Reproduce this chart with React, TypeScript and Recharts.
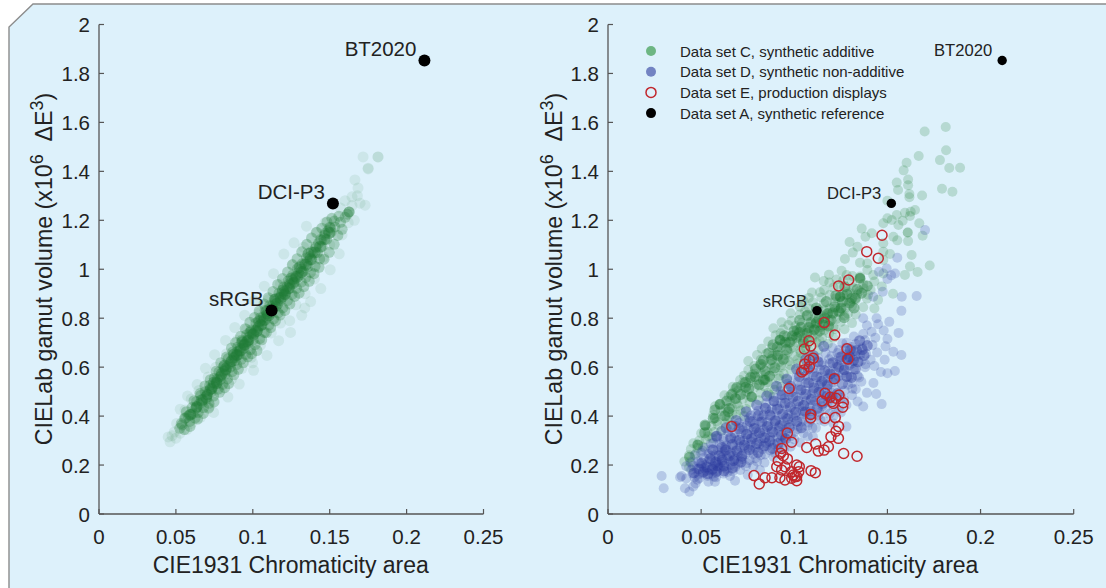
import React from 'react';
import { ScatterChart, Scatter, XAxis, YAxis, Legend } from 'recharts';

type Pt = [number, number];

const xTicks = [0, 0.05, 0.1, 0.15, 0.2, 0.25];
const yTicks = [0, 0.2, 0.4, 0.6, 0.8, 1, 1.2, 1.4, 1.6, 1.8, 2];

const referencePoints: { x: number; y: number; label: string }[] = [
  { x: 0.2116, y: 1.853, label: 'BT2020' },
  { x: 0.1521, y: 1.269, label: 'DCI-P3' },
  { x: 0.1122, y: 0.831, label: 'sRGB' },
];

// left panel: the pale outskirts of the band
const leftHalo: Pt[] = [
  [0.045, 0.315], [0.0462, 0.295], [0.0475, 0.32], [0.049, 0.335], [0.05, 0.31], [0.0528, 0.33], [0.057, 0.345],
  [0.06, 0.37], [0.0505, 0.37], [0.066, 0.395], [0.056, 0.425], [0.06, 0.47], [0.072, 0.44], [0.065, 0.505],
  [0.08, 0.51], [0.071, 0.56], [0.086, 0.55], [0.076, 0.6], [0.093, 0.595], [0.083, 0.655], [0.099, 0.64],
  [0.09, 0.71], [0.105, 0.69], [0.096, 0.755], [0.112, 0.74], [0.118, 0.78], [0.124, 0.79], [0.104, 0.82],
  [0.128, 0.855], [0.11, 0.875], [0.134, 0.9], [0.118, 0.94], [0.14, 0.96], [0.126, 1.02], [0.146, 1.05],
  [0.133, 1.09], [0.15, 1.1], [0.141, 1.15], [0.158, 1.14], [0.147, 1.19], [0.162, 1.19], [0.166, 1.2],
  [0.157, 1.25], [0.1645, 1.296], [0.1697, 1.27], [0.173, 1.262], [0.1684, 1.332], [0.1664, 1.365], [0.16, 1.28],
  [0.175, 1.413], [0.1717, 1.459], [0.1814, 1.459], [0.1814, 1.459], [0.168, 1.3], [0.1645, 1.26], [0.175, 1.41],
  [0.0745, 0.415], [0.0838, 0.478], [0.0912, 0.531], [0.1005, 0.587], [0.1092, 0.648], [0.1168, 0.708], [0.1245, 0.742],
  [0.1318, 0.812], [0.1376, 0.868], [0.1442, 0.921], [0.1503, 0.998], [0.1562, 1.063], [0.1338, 0.842], [0.0998, 0.618],
  [0.0528, 0.428], [0.0576, 0.482], [0.0638, 0.529], [0.0692, 0.595], [0.0752, 0.651], [0.0823, 0.709], [0.0883, 0.762],
  [0.0947, 0.812], [0.1008, 0.872], [0.1075, 0.931], [0.1135, 0.982], [0.1202, 1.062], [0.1268, 1.108], [0.1349, 1.176],
];

// left panel: the dense part of the band
const leftCore: Pt[] = [
  [0.0525, 0.35], [0.0535, 0.37], [0.054, 0.364], [0.0555, 0.345], [0.0555, 0.39], [0.058, 0.4], [0.059, 0.378],
  [0.061, 0.41], [0.0605, 0.435], [0.0625, 0.392], [0.0635, 0.437], [0.0645, 0.415], [0.0635, 0.46], [0.067, 0.455],
  [0.0662, 0.485], [0.068, 0.435], [0.07, 0.47], [0.069, 0.5], [0.0715, 0.452], [0.0705, 0.487], [0.073, 0.5],
  [0.072, 0.525], [0.0745, 0.482], [0.0735, 0.512], [0.0766, 0.535], [0.075, 0.555], [0.0775, 0.51], [0.0762, 0.54],
  [0.079, 0.55], [0.078, 0.58], [0.0805, 0.53], [0.0795, 0.565], [0.082, 0.572], [0.081, 0.602], [0.0835, 0.552],
  [0.0825, 0.587], [0.085, 0.612], [0.084, 0.635], [0.0865, 0.582], [0.0855, 0.6], [0.088, 0.64], [0.087, 0.662],
  [0.0897, 0.65], [0.0895, 0.61], [0.0885, 0.627], [0.091, 0.652], [0.0902, 0.682], [0.0925, 0.632], [0.0915, 0.667],
  [0.094, 0.677], [0.093, 0.71], [0.0955, 0.652], [0.0945, 0.69], [0.097, 0.697], [0.096, 0.732], [0.0985, 0.672],
  [0.0975, 0.712], [0.1003, 0.711], [0.099, 0.752], [0.1015, 0.692], [0.1005, 0.737], [0.103, 0.747], [0.102, 0.78],
  [0.1045, 0.717], [0.1035, 0.762], [0.106, 0.772], [0.105, 0.802], [0.1075, 0.742], [0.1065, 0.787], [0.109, 0.802],
  [0.108, 0.832], [0.1105, 0.772], [0.1095, 0.817], [0.112, 0.822], [0.111, 0.852], [0.1135, 0.797], [0.1125, 0.837],
  [0.115, 0.847], [0.114, 0.877], [0.1165, 0.822], [0.1155, 0.862], [0.118, 0.872], [0.117, 0.902], [0.1195, 0.842],
  [0.1196, 0.887], [0.121, 0.897], [0.12, 0.927], [0.1225, 0.872], [0.1215, 0.912], [0.124, 0.922], [0.123, 0.952],
  [0.1255, 0.897], [0.1245, 0.937], [0.127, 0.947], [0.126, 0.977], [0.1285, 0.922], [0.1275, 0.962], [0.1307, 0.977],
  [0.129, 1.002], [0.1315, 0.947], [0.133, 0.992], [0.132, 1.022], [0.1345, 0.967], [0.136, 1.012], [0.135, 1.047],
  [0.1375, 0.987], [0.1385, 1.038], [0.138, 1.072], [0.1405, 1.012], [0.142, 1.067], [0.141, 1.092], [0.1435, 1.042],
  [0.145, 1.092], [0.144, 1.122], [0.148, 1.122], [0.147, 1.147], [0.151, 1.152], [0.15, 1.172], [0.1534, 1.173],
  [0.153, 1.197], [0.157, 1.192], [0.156, 1.217], [0.16, 1.212], [0.1626, 1.234], [0.1626, 1.234], [0.1615, 1.225],
  [0.0568, 0.418], [0.0592, 0.358], [0.0618, 0.463], [0.0641, 0.388], [0.0657, 0.492], [0.0678, 0.411], [0.0689, 0.523],
  [0.0713, 0.433], [0.0724, 0.549], [0.0748, 0.458], [0.0761, 0.583], [0.0783, 0.497], [0.0792, 0.618], [0.0817, 0.516],
  [0.0829, 0.641], [0.0843, 0.533], [0.0861, 0.678], [0.0877, 0.569], [0.0889, 0.701], [0.0906, 0.591], [0.0921, 0.726],
  [0.0938, 0.618], [0.0951, 0.757], [0.0968, 0.642], [0.0981, 0.783], [0.0993, 0.655], [0.1012, 0.803], [0.1027, 0.668],
  [0.1041, 0.829], [0.1058, 0.712], [0.1073, 0.858], [0.1088, 0.741], [0.1101, 0.884], [0.1116, 0.762], [0.1131, 0.909],
  [0.1147, 0.789], [0.1162, 0.938], [0.1178, 0.813], [0.1193, 0.962], [0.1208, 0.831], [0.1226, 0.989], [0.1241, 0.858],
  [0.1257, 1.018], [0.1272, 0.889], [0.1288, 1.043], [0.1301, 0.902], [0.1318, 1.071], [0.1332, 0.929], [0.1351, 1.102],
  [0.1367, 0.951], [0.1382, 1.128], [0.1398, 0.982], [0.1415, 1.151], [0.1431, 1.008], [0.1449, 1.168], [0.1463, 1.041],
  [0.1482, 1.193], [0.1497, 1.069], [0.1514, 1.208], [0.1529, 1.102], [0.1553, 1.138], [0.1581, 1.163],
  [0.0562, 0.392], [0.0597, 0.407], [0.0628, 0.431], [0.0652, 0.449], [0.0677, 0.468], [0.0703, 0.489], [0.0718, 0.505],
  [0.0741, 0.522], [0.0769, 0.551], [0.0788, 0.561], [0.0812, 0.584], [0.0833, 0.602], [0.0858, 0.621], [0.0873, 0.637],
  [0.0897, 0.662], [0.0917, 0.677], [0.0939, 0.694], [0.0958, 0.703], [0.0973, 0.722], [0.0994, 0.737], [0.1019, 0.752],
  [0.1038, 0.768], [0.1052, 0.79], [0.1069, 0.805], [0.1092, 0.818], [0.1112, 0.84], [0.1128, 0.851], [0.1146, 0.869],
  [0.1169, 0.884], [0.1187, 0.899], [0.1201, 0.908], [0.1223, 0.928], [0.1238, 0.941], [0.1259, 0.957], [0.1278, 0.971],
  [0.1296, 0.985], [0.1312, 1.001], [0.1335, 1.021], [0.1354, 1.033], [0.1372, 1.052], [0.1391, 1.069], [0.1412, 1.088],
  [0.1428, 1.107], [0.1447, 1.118], [0.1468, 1.139], [0.1489, 1.157], [0.1505, 1.169],
];

// left panel: the darkest ridge along the middle of the band
const leftDense: Pt[] = [
  [0.0592, 0.405], [0.0635, 0.437], [0.0668, 0.465], [0.0697, 0.478], [0.0728, 0.512], [0.0766, 0.535], [0.0748, 0.537],
  [0.0798, 0.573], [0.0824, 0.592], [0.0817, 0.607], [0.0862, 0.625], [0.0897, 0.65], [0.0878, 0.652], [0.0921, 0.668],
  [0.0948, 0.692], [0.0932, 0.702], [0.0967, 0.708], [0.1003, 0.733], [0.0985, 0.742], [0.1024, 0.748], [0.1052, 0.772],
  [0.1041, 0.788], [0.1078, 0.794], [0.1103, 0.812], [0.1091, 0.828], [0.1128, 0.838], [0.1158, 0.858], [0.1147, 0.876],
  [0.1182, 0.884], [0.1208, 0.899], [0.1196, 0.914], [0.1232, 0.922], [0.1263, 0.943], [0.1251, 0.962], [0.1287, 0.968],
  [0.1318, 0.989], [0.1306, 1.008], [0.1345, 1.018], [0.1376, 1.041], [0.1362, 1.062], [0.1402, 1.068], [0.1438, 1.092],
  [0.1466, 1.124], [0.1497, 1.148],
];

// right panel, data set C
const dataC: Pt[] = [
  [0.1813, 1.581], [0.17, 1.563], [0.1668, 1.463], [0.1815, 1.486], [0.1782, 1.446], [0.1603, 1.435], [0.1587, 1.404],
  [0.1832, 1.414], [0.189, 1.415], [0.155, 1.354], [0.1611, 1.367], [0.1611, 1.343], [0.1557, 1.324], [0.1793, 1.329],
  [0.1849, 1.317], [0.1618, 1.307], [0.1618, 1.294], [0.1686, 1.301], [0.15, 1.28], [0.1648, 1.242], [0.1625, 1.235],
  [0.1594, 1.231], [0.155, 1.222], [0.15, 1.208], [0.1523, 1.201], [0.1478, 1.188], [0.1559, 1.181], [0.1582, 1.198],
  [0.1621, 1.218], [0.1671, 1.188], [0.1609, 1.15], [0.1609, 1.15], [0.1689, 1.137], [0.1362, 1.166], [0.1416, 1.147],
  [0.1382, 1.133], [0.1532, 1.133], [0.1553, 1.118], [0.1611, 1.115], [0.1297, 1.111], [0.1478, 1.106], [0.1339, 1.092],
  [0.1314, 1.068], [0.1478, 1.072], [0.1272, 1.042], [0.1514, 1.062], [0.163, 1.058], [0.1353, 1.027], [0.1392, 1.024],
  [0.1478, 1.038], [0.1727, 1.015], [0.1621, 1.011], [0.1662, 0.989], [0.1594, 0.977], [0.1186, 0.978], [0.1111, 0.966],
  [0.1254, 0.994], [0.1392, 0.997], [0.1353, 0.97], [0.1424, 0.976], [0.1478, 0.983], [0.1281, 0.976], [0.1263, 0.955],
  [0.1246, 0.93], [0.131, 0.945], [0.137, 0.94], [0.1353, 0.963], [0.1353, 0.963], [0.143, 0.95], [0.121, 0.925],
  [0.116, 0.915], [0.1095, 0.905], [0.1145, 0.885], [0.119, 0.895], [0.1246, 0.888], [0.1246, 0.888], [0.13, 0.905],
  [0.135, 0.91], [0.141, 0.915], [0.147, 0.93], [0.153, 0.9], [0.105, 0.87], [0.11, 0.865], [0.116, 0.86],
  [0.122, 0.865], [0.128, 0.87], [0.133, 0.875], [0.139, 0.88], [0.145, 0.875], [0.103, 0.847], [0.108, 0.84],
  [0.113, 0.835], [0.119, 0.84], [0.125, 0.84], [0.131, 0.85], [0.137, 0.845], [0.143, 0.84], [0.098, 0.82],
  [0.103, 0.815], [0.1065, 0.81], [0.111, 0.8], [0.116, 0.81], [0.121, 0.815], [0.127, 0.81], [0.133, 0.815],
  [0.0932, 0.783], [0.0985, 0.79], [0.104, 0.78], [0.109, 0.775], [0.114, 0.78], [0.119, 0.785], [0.125, 0.785],
  [0.131, 0.78], [0.0888, 0.759], [0.094, 0.755], [0.1013, 0.752], [0.1013, 0.752], [0.106, 0.75], [0.111, 0.755],
  [0.116, 0.75], [0.122, 0.755], [0.127, 0.755], [0.09, 0.73], [0.096, 0.725], [0.1, 0.73], [0.105, 0.72],
  [0.11, 0.73], [0.115, 0.72], [0.121, 0.72], [0.086, 0.705], [0.0923, 0.711], [0.0923, 0.711], [0.097, 0.7],
  [0.102, 0.7], [0.107, 0.695], [0.112, 0.7], [0.118, 0.695], [0.0825, 0.675], [0.088, 0.68], [0.093, 0.68],
  [0.098, 0.675], [0.103, 0.67], [0.108, 0.67], [0.113, 0.67], [0.08, 0.65], [0.085, 0.655], [0.09, 0.65],
  [0.095, 0.65], [0.1, 0.645], [0.105, 0.645], [0.11, 0.64], [0.0753, 0.625], [0.082, 0.63], [0.087, 0.625],
  [0.092, 0.62], [0.097, 0.625], [0.102, 0.615], [0.107, 0.61], [0.0753, 0.588], [0.0785, 0.605], [0.083, 0.6],
  [0.088, 0.595], [0.093, 0.6], [0.098, 0.59], [0.103, 0.585], [0.0709, 0.547], [0.073, 0.565], [0.0775, 0.57],
  [0.082, 0.575], [0.0843, 0.547], [0.0843, 0.547], [0.0843, 0.55], [0.087, 0.565], [0.092, 0.565], [0.096, 0.55],
  [0.067, 0.52], [0.0715, 0.525], [0.0755, 0.535], [0.08, 0.53], [0.084, 0.52], [0.089, 0.53], [0.093, 0.52],
  [0.0625, 0.485], [0.067, 0.495], [0.07, 0.505], [0.0745, 0.5], [0.0771, 0.479], [0.0771, 0.479], [0.082, 0.495],
  [0.086, 0.495], [0.0601, 0.448], [0.0601, 0.448], [0.0575, 0.44], [0.0655, 0.46], [0.069, 0.47], [0.0725, 0.47],
  [0.076, 0.455], [0.081, 0.465], [0.0605, 0.42], [0.063, 0.43], [0.0665, 0.435], [0.07, 0.44], [0.074, 0.43],
  [0.0574, 0.391], [0.0574, 0.391], [0.0565, 0.405], [0.061, 0.4], [0.065, 0.395], [0.069, 0.405], [0.073, 0.4],
  [0.0523, 0.361], [0.0523, 0.361], [0.0555, 0.36], [0.059, 0.365], [0.063, 0.37], [0.067, 0.365], [0.05, 0.33],
  [0.0535, 0.335], [0.057, 0.335], [0.061, 0.34], [0.0458, 0.289], [0.049, 0.3], [0.0525, 0.305], [0.056, 0.31],
  [0.0445, 0.265], [0.048, 0.27], [0.051, 0.275], [0.0435, 0.24], [0.047, 0.245], [0.041, 0.214], [0.044, 0.215],
  [0.0435, 0.19],
  [0.0648, 0.478], [0.0683, 0.512], [0.0727, 0.538], [0.0738, 0.487], [0.0763, 0.548], [0.0787, 0.517], [0.0809, 0.547],
  [0.0786, 0.573], [0.0818, 0.608], [0.0846, 0.571], [0.0857, 0.538], [0.0872, 0.612], [0.0891, 0.583], [0.0908, 0.638],
  [0.0883, 0.647], [0.0917, 0.553], [0.0943, 0.573], [0.0928, 0.607], [0.0951, 0.634], [0.0979, 0.608], [0.0967, 0.663],
  [0.0938, 0.697], [0.0912, 0.664], [0.0996, 0.682], [0.1018, 0.632], [0.1034, 0.658], [0.0989, 0.712], [0.1021, 0.727],
  [0.1047, 0.697], [0.1062, 0.678], [0.1073, 0.712], [0.1048, 0.742], [0.1082, 0.752], [0.1097, 0.717], [0.1124, 0.738],
  [0.1136, 0.708], [0.1113, 0.775], [0.1141, 0.762], [0.1168, 0.772], [0.1187, 0.738], [0.1209, 0.762], [0.1226, 0.797],
  [0.1152, 0.797], [0.1183, 0.822], [0.1218, 0.839], [0.1247, 0.824], [0.1275, 0.842], [0.1288, 0.818], [0.1306, 0.868],
  [0.1264, 0.895], [0.1223, 0.882], [0.1286, 0.909], [0.1318, 0.922], [0.1338, 0.897], [0.1372, 0.922], [0.1396, 0.896],
  [0.0868, 0.487], [0.0893, 0.508], [0.0667, 0.408], [0.0712, 0.423], [0.0692, 0.451], [0.0637, 0.388], [0.0583, 0.378],
  [0.0538, 0.318], [0.0482, 0.283], [0.0927, 0.738], [0.0968, 0.772], [0.1006, 0.768], [0.1058, 0.828], [0.1109, 0.821],
  [0.1163, 0.832], [0.1078, 0.883], [0.1138, 0.906], [0.1188, 0.946], [0.1158, 0.952], [0.1227, 0.958], [0.1312, 0.972],
];

// data set C, where the overlap goes nearly opaque
const denseC: Pt[] = [
  [0.0574, 0.425], [0.0601, 0.448], [0.0638, 0.462], [0.0664, 0.488], [0.0692, 0.517], [0.0712, 0.488], [0.0738, 0.538],
  [0.0756, 0.512], [0.0771, 0.479], [0.0789, 0.561], [0.0812, 0.528], [0.0834, 0.547], [0.0843, 0.585], [0.0821, 0.612],
  [0.0867, 0.563], [0.0878, 0.631], [0.0896, 0.598], [0.0923, 0.711], [0.0912, 0.648], [0.0908, 0.682], [0.0941, 0.632],
  [0.0959, 0.672], [0.0947, 0.728], [0.0976, 0.702], [0.0998, 0.748], [0.1013, 0.722], [0.1036, 0.763], [0.1049, 0.702],
  [0.1068, 0.738], [0.1089, 0.782], [0.1107, 0.752], [0.1132, 0.798], [0.1154, 0.772], [0.1178, 0.818], [0.1197, 0.792],
  [0.1217, 0.847], [0.1238, 0.828], [0.1258, 0.868], [0.1246, 0.888], [0.1283, 0.898], [0.1309, 0.882], [0.1338, 0.918],
  [0.1353, 0.963], [0.0521, 0.364], [0.0565, 0.391], [0.0627, 0.401], [0.0651, 0.431], [0.0438, 0.232], [0.0482, 0.282],
  [0.0519, 0.332], [0.0952, 0.702], [0.0989, 0.728], [0.1029, 0.742], [0.1078, 0.762], [0.1119, 0.782], [0.1163, 0.802],
  [0.1207, 0.822], [0.1252, 0.842], [0.1297, 0.862], [0.1328, 0.882], [0.1029, 0.792], [0.1071, 0.812], [0.1118, 0.842],
  [0.1172, 0.868], [0.1223, 0.892], [0.1271, 0.928], [0.1361, 0.902], [0.1392, 0.932], [0.1321, 0.842], [0.1268, 0.802],
  [0.1136, 0.748], [0.1184, 0.768], [0.0886, 0.692], [0.0863, 0.658], [0.0834, 0.628], [0.0792, 0.592], [0.0766, 0.558],
  [0.0738, 0.518], [0.0684, 0.472], [0.0646, 0.418],
];

// right panel, data set D
const dataD: Pt[] = [
  [0.0288, 0.155], [0.0299, 0.105], [0.0387, 0.15], [0.0437, 0.091], [0.0458, 0.112], [0.0413, 0.105], [0.0395, 0.155],
  [0.042, 0.145], [0.0455, 0.165], [0.049, 0.146], [0.0539, 0.132], [0.0574, 0.132], [0.0682, 0.136], [0.048, 0.14],
  [0.0465, 0.15], [0.047, 0.125], [0.051, 0.165], [0.0475, 0.185], [0.05, 0.195], [0.0445, 0.21], [0.042, 0.195],
  [0.0535, 0.155], [0.056, 0.165], [0.0545, 0.18], [0.058, 0.15], [0.062, 0.165], [0.0655, 0.155], [0.0585, 0.175],
  [0.0525, 0.2], [0.0565, 0.195], [0.06, 0.19], [0.0635, 0.185], [0.067, 0.175], [0.071, 0.18], [0.075, 0.16],
  [0.0485, 0.215], [0.0515, 0.23], [0.0555, 0.22], [0.059, 0.21], [0.0625, 0.205], [0.066, 0.2], [0.07, 0.205],
  [0.074, 0.195], [0.078, 0.195], [0.0816, 0.18], [0.0465, 0.24], [0.05, 0.25], [0.054, 0.245], [0.0575, 0.24],
  [0.061, 0.23], [0.0645, 0.225], [0.068, 0.225], [0.072, 0.225], [0.076, 0.22], [0.08, 0.215], [0.084, 0.21],
  [0.052, 0.27], [0.0555, 0.265], [0.059, 0.26], [0.0625, 0.255], [0.066, 0.25], [0.07, 0.25], [0.074, 0.245],
  [0.078, 0.245], [0.082, 0.24], [0.0888, 0.234], [0.0565, 0.29], [0.06, 0.285], [0.0635, 0.28], [0.067, 0.275],
  [0.071, 0.275], [0.075, 0.27], [0.079, 0.27], [0.083, 0.265], [0.087, 0.26], [0.0915, 0.265], [0.0585, 0.31],
  [0.062, 0.31], [0.0655, 0.305], [0.069, 0.3], [0.073, 0.3], [0.077, 0.295], [0.081, 0.295], [0.085, 0.29],
  [0.089, 0.285], [0.0935, 0.29], [0.098, 0.275], [0.0645, 0.335], [0.068, 0.33], [0.0715, 0.33], [0.075, 0.325],
  [0.079, 0.325], [0.083, 0.32], [0.087, 0.315], [0.091, 0.315], [0.095, 0.31], [0.1, 0.305], [0.11, 0.316],
  [0.0685, 0.36], [0.072, 0.355], [0.0755, 0.35], [0.0795, 0.35], [0.0835, 0.345], [0.0875, 0.345], [0.0915, 0.34],
  [0.0955, 0.335], [0.1, 0.335], [0.105, 0.33], [0.0735, 0.385], [0.0775, 0.38], [0.0815, 0.375], [0.0855, 0.375],
  [0.0895, 0.37], [0.0935, 0.365], [0.0975, 0.365], [0.102, 0.36], [0.107, 0.36], [0.121, 0.37], [0.128, 0.357],
  [0.0795, 0.41], [0.0835, 0.405], [0.0875, 0.4], [0.0915, 0.4], [0.0955, 0.395], [0.0995, 0.395], [0.104, 0.39],
  [0.109, 0.385], [0.114, 0.385], [0.084, 0.435], [0.088, 0.43], [0.092, 0.43], [0.096, 0.425], [0.1, 0.425],
  [0.1045, 0.42], [0.109, 0.42], [0.1135, 0.415], [0.119, 0.41], [0.125, 0.415], [0.137, 0.439], [0.1469, 0.449],
  [0.089, 0.46], [0.093, 0.455], [0.097, 0.455], [0.101, 0.45], [0.1055, 0.445], [0.11, 0.445], [0.115, 0.44],
  [0.121, 0.44], [0.128, 0.445], [0.134, 0.46], [0.093, 0.485], [0.097, 0.485], [0.101, 0.48], [0.105, 0.48],
  [0.1095, 0.475], [0.114, 0.47], [0.119, 0.47], [0.125, 0.475], [0.131, 0.485], [0.144, 0.49], [0.098, 0.515],
  [0.102, 0.51], [0.106, 0.505], [0.11, 0.505], [0.1145, 0.5], [0.12, 0.495], [0.127, 0.505], [0.133, 0.51],
  [0.139, 0.495], [0.102, 0.54], [0.106, 0.535], [0.11, 0.535], [0.114, 0.53], [0.118, 0.525], [0.131, 0.535],
  [0.136, 0.54], [0.1425, 0.535], [0.106, 0.565], [0.11, 0.565], [0.114, 0.56], [0.118, 0.555], [0.122, 0.55],
  [0.1295, 0.56], [0.134, 0.565], [0.15, 0.575], [0.154, 0.584], [0.1465, 0.58], [0.11, 0.595], [0.114, 0.59],
  [0.118, 0.585], [0.122, 0.58], [0.126, 0.575], [0.132, 0.59], [0.138, 0.6], [0.143, 0.605], [0.115, 0.62],
  [0.119, 0.615], [0.123, 0.61], [0.127, 0.605], [0.131, 0.615], [0.136, 0.625], [0.141, 0.63], [0.1485, 0.63],
  [0.12, 0.645], [0.124, 0.64], [0.128, 0.635], [0.133, 0.645], [0.1385, 0.655], [0.1445, 0.66], [0.1532, 0.663],
  [0.1575, 0.65], [0.124, 0.67], [0.128, 0.665], [0.132, 0.665], [0.1365, 0.68], [0.142, 0.69], [0.149, 0.685],
  [0.128, 0.7], [0.133, 0.695], [0.138, 0.71], [0.1435, 0.72], [0.15, 0.715], [0.132, 0.725], [0.137, 0.735],
  [0.1415, 0.745], [0.148, 0.75], [0.156, 0.74], [0.1442, 0.8], [0.139, 0.77], [0.145, 0.775], [0.151, 0.785],
  [0.137, 0.8], [0.1575, 0.83], [0.1424, 0.888], [0.1475, 0.908], [0.1577, 0.888], [0.1657, 0.891], [0.1541, 0.983],
  [0.1496, 1.003], [0.1455, 0.99], [0.1553, 1.047], [0.1702, 1.16], [0.15, 0.96], [0.152, 0.975],
  [0.0492, 0.207], [0.0518, 0.188], [0.0537, 0.214], [0.0552, 0.237], [0.0573, 0.203], [0.0591, 0.187], [0.0612, 0.212],
  [0.0607, 0.248], [0.0638, 0.238], [0.0629, 0.272], [0.0658, 0.213], [0.0673, 0.238], [0.0688, 0.262], [0.0697, 0.218],
  [0.0712, 0.293], [0.0723, 0.243], [0.0734, 0.271], [0.0747, 0.309], [0.0763, 0.282], [0.0778, 0.258], [0.0782, 0.312],
  [0.0796, 0.338], [0.0812, 0.282], [0.0823, 0.308], [0.0842, 0.336], [0.0853, 0.278], [0.0862, 0.362], [0.0881, 0.303],
  [0.0889, 0.332], [0.0902, 0.383], [0.0917, 0.353], [0.0929, 0.303], [0.0943, 0.378], [0.0958, 0.348], [0.0967, 0.408],
  [0.0982, 0.318], [0.0989, 0.378], [0.1007, 0.402], [0.1018, 0.346], [0.1027, 0.438], [0.1041, 0.378], [0.1052, 0.408],
  [0.1063, 0.462], [0.1078, 0.374], [0.1083, 0.436], [0.1096, 0.493], [0.1113, 0.462], [0.1127, 0.402], [0.1132, 0.524],
  [0.1148, 0.487], [0.1157, 0.548], [0.1176, 0.512], [0.1182, 0.458], [0.1197, 0.571], [0.1209, 0.538], [0.1226, 0.602],
  [0.1238, 0.562], [0.1247, 0.628], [0.1268, 0.589], [0.1282, 0.652], [0.1296, 0.608], [0.1309, 0.682], [0.0746, 0.362],
  [0.0767, 0.402], [0.0786, 0.368], [0.0807, 0.422], [0.0826, 0.392], [0.0848, 0.452], [0.0867, 0.418], [0.0888, 0.478],
  [0.0907, 0.442], [0.0926, 0.502], [0.0947, 0.472], [0.0963, 0.532], [0.0986, 0.498], [0.1009, 0.558], [0.1031, 0.522],
  [0.1049, 0.583], [0.1072, 0.548], [0.1091, 0.612], [0.1107, 0.578], [0.1126, 0.638], [0.1146, 0.608], [0.1168, 0.658],
  [0.1187, 0.632], [0.1206, 0.678], [0.1232, 0.658], [0.1258, 0.698], [0.1276, 0.679], [0.0552, 0.287], [0.0578, 0.318],
  [0.0607, 0.338], [0.0622, 0.298], [0.0661, 0.352], [0.0678, 0.312], [0.0703, 0.372], [0.0728, 0.342], [0.0757, 0.392],
  [0.0456, 0.196], [0.0508, 0.258], [0.0447, 0.181], [0.0528, 0.176], [0.0486, 0.162], [0.0568, 0.152], [0.0642, 0.172],
  [0.0683, 0.192], [0.0746, 0.208], [0.0792, 0.228], [0.0842, 0.243], [0.0896, 0.249], [0.0944, 0.262], [0.1031, 0.292],
  [0.1072, 0.318], [0.1116, 0.352], [0.1162, 0.378], [0.1212, 0.402], [0.1238, 0.428], [0.1267, 0.468], [0.1312, 0.512],
  [0.1348, 0.558], [0.1382, 0.612], [0.1354, 0.652], [0.1288, 0.528], [0.1222, 0.508], [0.1166, 0.428], [0.1097, 0.352],
];

// data set D, where the overlap goes nearly opaque
const denseD: Pt[] = [
  [0.0462, 0.168], [0.0488, 0.184], [0.0512, 0.172], [0.0503, 0.208], [0.0531, 0.192], [0.0547, 0.226], [0.0561, 0.183],
  [0.0578, 0.212], [0.0596, 0.238], [0.0587, 0.198], [0.0614, 0.221], [0.0632, 0.262], [0.0623, 0.196], [0.0651, 0.239],
  [0.0667, 0.284], [0.0674, 0.218], [0.0691, 0.257], [0.0706, 0.302], [0.0718, 0.236], [0.0732, 0.281], [0.0744, 0.326],
  [0.0759, 0.263], [0.0771, 0.308], [0.0785, 0.349], [0.0798, 0.288], [0.0813, 0.333], [0.0826, 0.376], [0.0841, 0.312],
  [0.0855, 0.358], [0.0868, 0.404], [0.0882, 0.336], [0.0897, 0.381], [0.0909, 0.428], [0.0923, 0.361], [0.0938, 0.408],
  [0.0951, 0.452], [0.0965, 0.389], [0.0979, 0.437], [0.0993, 0.478], [0.1008, 0.416], [0.1021, 0.462], [0.1036, 0.507],
  [0.1049, 0.443], [0.1063, 0.489], [0.1077, 0.536], [0.1091, 0.468], [0.1106, 0.516], [0.1119, 0.561], [0.1133, 0.498],
  [0.1148, 0.542], [0.1163, 0.586], [0.1177, 0.528], [0.1192, 0.573], [0.1207, 0.618], [0.1221, 0.556], [0.1238, 0.601],
  [0.1253, 0.643], [0.1269, 0.589], [0.1284, 0.632], [0.1301, 0.671], [0.1318, 0.628], [0.1334, 0.668], [0.1351, 0.708],
  [0.1365, 0.672], [0.0583, 0.318], [0.0634, 0.352], [0.0688, 0.382], [0.0742, 0.418], [0.0798, 0.445], [0.0852, 0.482],
  [0.0905, 0.522], [0.0959, 0.552], [0.1012, 0.592], [0.1062, 0.632], [0.1102, 0.648], [0.1158, 0.685], [0.0563, 0.262],
  [0.0611, 0.272], [0.0659, 0.312], [0.0704, 0.348], [0.0763, 0.378], [0.0808, 0.402], [0.0846, 0.432], [0.0891, 0.462],
  [0.0937, 0.487], [0.0981, 0.522], [0.1028, 0.562], [0.1074, 0.592], [0.1128, 0.622], [0.0884, 0.268], [0.0932, 0.322],
  [0.0973, 0.352], [0.1014, 0.378], [0.1038, 0.352], [0.1061, 0.418], [0.1092, 0.408], [0.1123, 0.432], [0.1151, 0.452],
  [0.1178, 0.483], [0.1203, 0.478], [0.1232, 0.492], [0.1258, 0.532], [0.1281, 0.562], [0.1307, 0.558], [0.1328, 0.592],
  [0.1342, 0.622], [0.1298, 0.642], [0.1374, 0.648], [0.1392, 0.688], [0.0806, 0.252], [0.0838, 0.278], [0.0867, 0.298],
  [0.0912, 0.288], [0.0954, 0.308], [0.0714, 0.212], [0.0668, 0.188], [0.0622, 0.176], [0.0537, 0.164], [0.0581, 0.172],
];

// right panel, data set E
const dataE: Pt[] = [
  [0.1471, 1.139], [0.1389, 1.072], [0.1451, 1.045], [0.1292, 0.956], [0.1238, 0.932], [0.1161, 0.782], [0.1217, 0.731],
  [0.1079, 0.708], [0.1088, 0.686], [0.1054, 0.674], [0.1283, 0.675], [0.1288, 0.633], [0.1102, 0.636], [0.1081, 0.629],
  [0.1056, 0.613], [0.1081, 0.602], [0.1052, 0.588], [0.104, 0.58], [0.1215, 0.553], [0.0972, 0.513], [0.1165, 0.493],
  [0.124, 0.486], [0.1192, 0.477], [0.1224, 0.473], [0.1149, 0.462], [0.1201, 0.459], [0.121, 0.452], [0.1263, 0.455],
  [0.126, 0.436], [0.1088, 0.407], [0.1088, 0.392], [0.1165, 0.391], [0.122, 0.394], [0.0664, 0.358], [0.1238, 0.358],
  [0.1224, 0.338], [0.0963, 0.331], [0.1197, 0.316], [0.1237, 0.309], [0.0986, 0.293], [0.1115, 0.286], [0.1067, 0.272],
  [0.1183, 0.275], [0.116, 0.261], [0.1129, 0.257], [0.0932, 0.268], [0.0927, 0.248], [0.0941, 0.238], [0.0963, 0.225],
  [0.1265, 0.247], [0.1337, 0.236], [0.0914, 0.218], [0.1013, 0.2], [0.0906, 0.193], [0.095, 0.193], [0.1027, 0.193],
  [0.0932, 0.18], [0.0986, 0.173], [0.1024, 0.173], [0.109, 0.177], [0.1113, 0.169], [0.0784, 0.157], [0.0843, 0.148],
  [0.088, 0.148], [0.0923, 0.148], [0.0812, 0.123], [0.095, 0.139], [0.0995, 0.159], [0.1013, 0.153], [0.0986, 0.146],
  [0.1013, 0.136], [0.1004, 0.153],
];

const legendOrder = [
  'Data set C, synthetic additive',
  'Data set D, synthetic non-additive',
  'Data set E, production displays',
  'Data set A, synthetic reference',
];

const labelText = '#222222';
const axisGrey = '#555555';
const sans = '"Liberation Sans", Arial, sans-serif';

const toPoints = (pts: Pt[]) => pts.map(([x, y]) => ({ x, y }));

interface PanelProps {
  left: number;
  width: number;
  plotLeft: number;
  plotRight: number;
  labelX: number;
  refFont: number;
  refDx: number;
  refDy: number;
  refR: number;
  showLegend?: boolean;
  children?: React.ReactNode;
}

const bottomTick = ({ x, y, payload }: any) => (
  <g>
    <line x1={x} x2={x} y1={y} y2={y - 5} stroke={axisGrey} strokeWidth={1.2} />
    <text x={x} y={y + 30} textAnchor="middle" fontSize={20.5} fontFamily={sans} fill={labelText}>{payload.value}</text>
  </g>
);
const topTick = ({ x, y }: any) => <line x1={x} x2={x} y1={y} y2={y + 5} stroke={axisGrey} strokeWidth={1.2} />;
const leftTick = ({ x, y, payload }: any) => (
  <g>
    <line x1={x} x2={x + 5} y1={y} y2={y} stroke={axisGrey} strokeWidth={1.2} />
    <text x={x - 9} y={y + 7.5} textAnchor="end" fontSize={20.5} fontFamily={sans} fill={labelText}>{payload.value}</text>
  </g>
);
const rightTick = ({ x, y }: any) => <line x1={x} x2={x - 5} y1={y} y2={y} stroke={axisGrey} strokeWidth={1.2} />;

// a slight blur softens the disc edges the way the reference's do
const dot = (r: number, fill: string, opacity: number) => (p: any) => (
  <circle cx={p.cx} cy={p.cy} r={r} fill={fill} fillOpacity={opacity} style={{ filter: 'blur(0.6px)' }} />
);
const ring = (p: any) => <circle cx={p.cx} cy={p.cy} r={5} fill="none" stroke="#C1272D" strokeWidth={1.5} />;

const legendStyles: Record<string, React.SVGProps<SVGCircleElement>> = {
  'Data set C, synthetic additive': { fill: '#6DB683' },
  'Data set D, synthetic non-additive': { fill: '#7283C2' },
  'Data set E, production displays': { fill: 'none', stroke: '#C1272D', strokeWidth: 1.5 },
  'Data set A, synthetic reference': { fill: '#000000' },
};

const legendContent = ({ payload }: any) => (
  <svg width={300} height={86} style={{ display: 'block' }}>
    {(payload || []).filter((item: any) => legendStyles[item.value]).map((item: any, i: number) => (
      <g key={item.value}>
        <circle cx={7} cy={8 + i * 20.7} r={5} {...legendStyles[item.value]} />
        <text x={36} y={13.5 + i * 20.7} fontSize={15} fontFamily={sans} fill={labelText}>{item.value}</text>
      </g>
    ))}
  </svg>
);

const Panel = ({ left, width, plotLeft, plotRight, labelX, refFont, refDx, refDy, refR, showLegend, children }: PanelProps) => {
  const refDot = (p: any) => (
    <g>
      <circle cx={p.cx} cy={p.cy} r={refR} fill="#000000" />
      <text x={p.cx + refDx} y={p.cy + refDy} textAnchor="end" fontSize={refFont} fontFamily={sans} fill={labelText}>
        {p.payload.label}
      </text>
    </g>
  );
  return (
    <div style={{ position: 'absolute', left, top: 0 }}>
      <ScatterChart
        width={width}
        height={588}
        margin={{ top: 24.5, left: 0, right: width - plotRight, bottom: 0 }}
      >
        <XAxis dataKey="x" type="number" domain={[0, 0.25]} ticks={xTicks} interval={0} height={74} tickSize={0} tickMargin={0}
          tickLine={false} axisLine={{ stroke: axisGrey, strokeWidth: 1.3 }} tick={bottomTick} />
        <XAxis xAxisId="top" orientation="top" type="number" domain={[0, 0.25]} ticks={xTicks} interval={0} height={0} tickSize={0} tickMargin={0}
          tickLine={false} axisLine={{ stroke: axisGrey, strokeWidth: 1.3 }} tick={topTick} />
        <YAxis dataKey="y" type="number" domain={[0, 2]} ticks={yTicks} interval={0} width={plotLeft} tickSize={0} tickMargin={0}
          tickLine={false} axisLine={{ stroke: axisGrey, strokeWidth: 1.3 }} tick={leftTick} />
        <YAxis yAxisId="right" orientation="right" type="number" domain={[0, 2]} ticks={yTicks} interval={0} width={0} tickSize={0} tickMargin={0}
          tickLine={false} axisLine={{ stroke: axisGrey, strokeWidth: 1.3 }} tick={rightTick} />
        {children}
        <Scatter name="Data set A, synthetic reference" data={referencePoints} fill="#000000" shape={refDot} isAnimationActive={false} />
        {showLegend && (
          <Legend layout="vertical" align="center" verticalAlign="middle" content={legendContent}
            itemSorter={(item: any) => legendOrder.indexOf(item.value)}
            wrapperStyle={{ left: 124, top: 43, width: 300 }} />
        )}
        <text x={plotLeft + (plotRight - plotLeft) / 2 - 0.5} y={573} textAnchor="middle" fontSize={23} fontFamily={sans} fill={labelText}>
          CIE1931 Chromaticity area
        </text>
        <text transform={`translate(${labelX} 269) rotate(-90)`} textAnchor="middle" fontSize={23.2} fontFamily={sans} fill={labelText}>
          CIELab gamut volume (x10<tspan dy={-9} fontSize={18}>6</tspan><tspan dy={9}>{'\u00A0\u00A0'}ΔE</tspan><tspan dy={-9} fontSize={18}>3</tspan><tspan dy={9}>)</tspan>
        </text>
      </ScatterChart>
    </div>
  );
};

const App = () => (
  <div style={{ position: 'absolute', left: 0, top: 0, width: 1106, height: 588, overflow: 'hidden', background: '#ffffff' }}>
    <svg width={1106} height={588} style={{ position: 'absolute', left: 0, top: 0 }}>
      <polygon points="33,4 1106,4 1106,588 9,588 9,27" fill="#DDF1FB" />
      <polyline points="9,588 9,27 33,4 1106,4" fill="none" stroke="#8C8C8C" strokeWidth={1.4} />
    </svg>
    <Panel left={0} width={520} plotLeft={99} plotRight={483.5} labelX={52} refFont={20.5} refDx={-8} refDy={-4.5} refR={6}>
      <Scatter name="halo" legendType="none" data={toPoints(leftHalo)} fill="#1E7B34" shape={dot(5.5, '#1E7B34', 0.09)} isAnimationActive={false} />
      <Scatter name="core" legendType="none" data={toPoints(leftCore)} fill="#1E7B34" shape={dot(5.5, '#1E7B34', 0.28)} isAnimationActive={false} />
      <Scatter name="ridge" legendType="none" data={toPoints(leftDense)} fill="#1E7B34" shape={dot(6, '#1E7B34', 0.4)} isAnimationActive={false} />
    </Panel>
    <Panel left={520} width={586} plotLeft={88} plotRight={553.7} labelX={42} refFont={16.6} refDx={-10} refDy={-4} refR={4.7} showLegend>
      <Scatter name="Data set C, synthetic additive" data={toPoints(dataC)} fill="#1E7B34" shape={dot(5, '#1E7B34', 0.2)} isAnimationActive={false} />
      <Scatter name="C dense" legendType="none" data={toPoints(denseC)} fill="#1E7B34" shape={dot(5.5, '#1E7B34', 0.4)} isAnimationActive={false} />
      <Scatter name="Data set D, synthetic non-additive" data={toPoints(dataD)} fill="#2B3A9E" shape={dot(5, '#2B3A9E', 0.22)} isAnimationActive={false} />
      <Scatter name="D dense" legendType="none" data={toPoints(denseD)} fill="#2B3A9E" shape={dot(5.5, '#2B3A9E', 0.42)} isAnimationActive={false} />
      <Scatter name="Data set E, production displays" data={toPoints(dataE)} fill="#C1272D" shape={ring} isAnimationActive={false} />
    </Panel>
  </div>
);

export default App;
